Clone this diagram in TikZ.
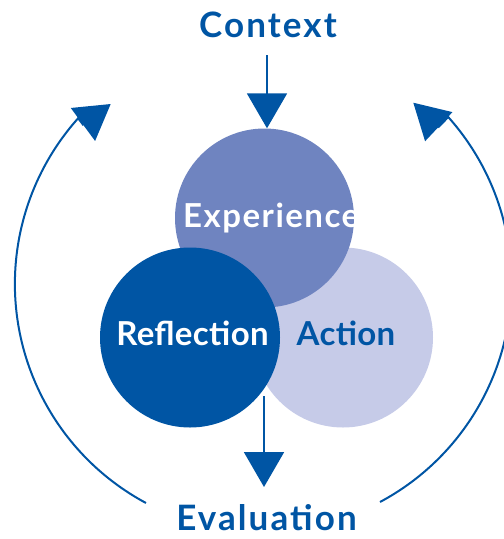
\documentclass[tikz,border=0pt]{standalone}
\usepackage{fontspec}
\setmainfont{Lato}
\newfontfamily\headfont[LetterSpace=6]{Lato}
\newfontfamily\lblfont[LetterSpace=1]{Lato}
\newfontfamily\expfont[LetterSpace=4.5]{Lato}
\usetikzlibrary{arrows.meta,calc}
\definecolor{dblue}{HTML}{0055A4}
\definecolor{mblue}{HTML}{6F84C0}
\definecolor{lblue}{HTML}{C6CBE8}
\begin{document}
\begin{tikzpicture}[x=1pt,y=-1pt,
  blob/.style={circle,inner sep=0pt,minimum size=180pt},
  headtext/.style={font=\headfont\fontsize{35}{40}\selectfont\bfseries,text=dblue,inner sep=0pt},
  lbl/.style={font=\lblfont\fontsize{33}{38}\selectfont\bfseries,inner sep=0pt},
  explbl/.style={font=\expfont\fontsize{33}{38}\selectfont\bfseries,inner sep=0pt},
  conn/.style={draw=dblue,line width=2pt},
  bigtip/.style={-{Triangle[length=35pt,width=40pt]}}]
\useasboundingbox (0,0) rectangle (504,539);
\node[blob,fill=lblue] (act) at (343,337.5) {};
\node[blob,fill=mblue,minimum size=179pt] (exp) at (264.5,218) {};
\begin{scope}
  \clip (264.5,218) circle[radius=89.5];
  \node[explbl,text=white,anchor=base west] (exptext) at (183,227) {Experience};
\end{scope}
\node[blob,fill=dblue] (refl) at (190,337.5) {};
\node[lbl,text=white,anchor=base] (refltext) at (192.5,345) {Reflection};
\node[lbl,text=dblue,anchor=base] (acttext) at (346,345) {Action};
\node[headtext,anchor=base] (ctx) at (268,37) {Context};
\node[headtext,anchor=base] (eval) at (266.5,530.5) {Evaluation};
% straight arrows
\coordinate (ctxout) at ($(ctx.base)+(-1,18)$);
\draw[conn,bigtip] (ctxout) -- (ctxout |- exp.north);
\coordinate (reflout) at ($(refl.center)+(74,58.5)$);
\coordinate (evalin) at ($(eval.base)+(0,-43.5)$);
\draw[conn,bigtip] (reflout) -- (reflout |- evalin);
% feedback arcs
\coordinate (lstart) at (146,503);
\coordinate (rstart) at (380,502);
\draw[conn,-{Triangle[length=34.5pt,width=40.5pt]}] (lstart) arc[start angle=118.2,end angle=221.8,radius=248.6] -- (82.9,124.5) -- (110.7,104);
\draw[conn,-{Triangle[length=35pt,width=39.5pt]}] (rstart) arc[start angle=61.9,end angle=-41.8,radius=248.6] -- (438.8,126.7) -- (413.3,102.7);
\end{tikzpicture}
\end{document}
